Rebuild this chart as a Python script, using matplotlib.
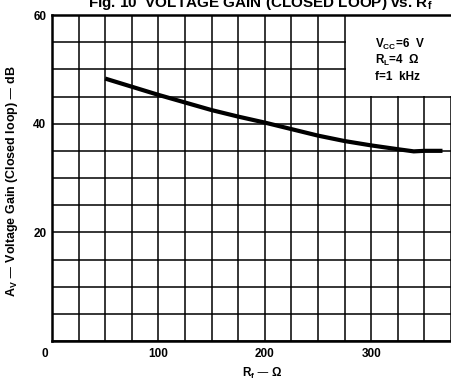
import matplotlib
matplotlib.use("Agg")
import matplotlib.pyplot as plt
from matplotlib.patches import Rectangle

plt.rcParams['font.family'] = ['Liberation Sans', 'DejaVu Sans']

# Data
rf = [50, 75, 100, 125, 150, 175, 200, 225, 250, 275, 300, 325, 340, 350, 367]
gain = [48.3, 46.8, 45.3, 43.9, 42.5, 41.3, 40.2, 39.0, 37.8, 36.8, 36.0, 35.3, 34.9, 35.0, 35.0]
xticks = [100, 200, 300]
yticks = [20, 40, 60]
title = "Fig. 10  VOLTAGE GAIN (CLOSED LOOP) vs. R$_\\mathregular{f}$"
notes = ["V$_\\mathregular{CC}$=6  V", "R$_\\mathregular{L}$=4  \u03a9", "f=1  kHz"]

fig = plt.figure(figsize=(4.51, 3.81), dpi=100)
ax = fig.add_axes([52/451, 40/381, 1 - 52/451, 326/381])
ax.set_xlim(0, 367)
ax.set_ylim(0, 60)

# grid
ax.set_xticks(range(0, 376, 25), minor=True)
ax.set_yticks(range(0, 61, 5), minor=True)
ax.set_xticks(xticks)
ax.set_yticks(yticks)
ax.grid(which='both', color='black', linewidth=1.1, zorder=1)
ax.tick_params(which='both', length=0, labelsize=8.5)
for lab in ax.get_xticklabels() + ax.get_yticklabels():
    lab.set_fontweight('bold')
ax.tick_params(axis='x', pad=5)
ax.tick_params(axis='y', pad=4)

# blank area for the conditions box
ax.add_patch(Rectangle((276, 45.12), 100, 14.88, facecolor='white', edgecolor='none', zorder=2, clip_on=False))

ax.plot(rf, gain, color='black', linewidth=3, zorder=3, solid_capstyle='butt')

for s in ['left', 'bottom', 'top']:
    ax.spines[s].set_linewidth(1.8)
    ax.spines[s].set_zorder(4)
ax.spines['right'].set_visible(False)

ax.text(-4, -1.3, "0", ha='right', va='top', fontsize=8.5, fontweight='bold')

for i, t in enumerate(notes):
    ax.text(304, 54.5 - i * 2.95, t, ha='left', va='center', fontsize=8.5, fontweight='bold', zorder=5)

ax.set_xlabel("R$_\\mathregular{f}$ \u2014 \u03a9", fontsize=8.5, fontweight='bold')
ax.xaxis.set_label_coords((262 - 52) / (451 - 52), -0.075)
ax.set_ylabel("A$_\\mathregular{V}$ \u2014 Voltage Gain (Closed loop) \u2014 dB", fontsize=9, fontweight='bold')
ax.yaxis.set_label_coords(-(52 - 20) / (451 - 52), 0.49)

fig.text(260/451, 1 - 7/381, title, ha='center', va='baseline', fontsize=11, fontweight='bold')

fig.savefig("out.png", dpi=100)
